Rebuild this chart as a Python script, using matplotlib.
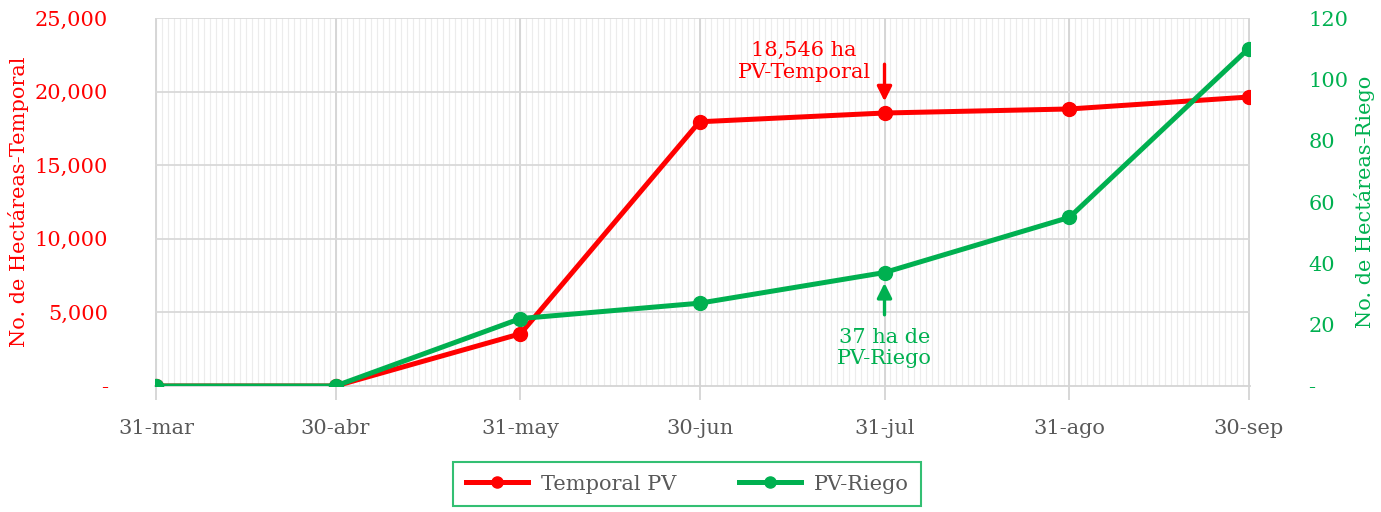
import numpy as np
import pandas as pd
import matplotlib
matplotlib.use("Agg")
import matplotlib.pyplot as plt
from matplotlib.ticker import FuncFormatter, MultipleLocator

fechas = pd.to_datetime(["2021-03-31", "2021-04-30", "2021-05-31", "2021-06-30",
                         "2021-07-31", "2021-08-31", "2021-09-30"])
etiquetas_x = ["31-mar", "30-abr", "31-may", "30-jun", "31-jul", "31-ago", "30-sep"]
temporal = [0, 0, 3550, 17950, 18546, 18820, 19630]
riego = [0, 0, 22, 27, 37, 55, 110]

ROJO = "#FF0000"
VERDE = "#00B050"
GRIS = "#595959"
FS = 15

plt.rcParams["font.family"] = ["DejaVu Serif"]

fig = plt.figure(figsize=(13.81, 5.12), dpi=100)
ax = fig.add_axes([155 / 1381, 1 - 386 / 512, (1250 - 155) / 1381, (386 - 18) / 512])
ax2 = ax.twinx()

# rejilla diaria + mensual
dias = pd.date_range(fechas[0], fechas[-1], freq="D")
for d in dias:
    ax.axvline(d, color="#ececec", lw=0.8, zorder=0)
for d in fechas:
    ax.axvline(d, color="#d4d4d4", lw=1.3, zorder=0)
for v in range(5000, 25001, 5000):
    ax.axhline(v, color="#d9d9d9", lw=1.3, zorder=0)

ax.plot(fechas, temporal, color=ROJO, lw=3.6, marker="o", ms=10, label="Temporal PV", zorder=3)
ax2.plot(fechas, riego, color=VERDE, lw=3.6, marker="o", ms=10, label="PV-Riego", zorder=3)

ax.set_xlim(fechas[0] - pd.Timedelta(hours=6), fechas[-1] + pd.Timedelta(hours=6))
ax.set_ylim(0, 25000)
ax2.set_ylim(0, 120)
ax.yaxis.set_major_locator(MultipleLocator(5000))
ax2.yaxis.set_major_locator(MultipleLocator(20))
ax.yaxis.set_major_formatter(FuncFormatter(lambda v, p: "-" if v == 0 else f"{v:,.0f}"))
ax2.yaxis.set_major_formatter(FuncFormatter(lambda v, p: "-" if v == 0 else f"{v:.0f}"))

ax.set_xticks(fechas)
ax.set_xticklabels(etiquetas_x)
ax.tick_params(axis="x", length=10, color="#d4d4d4", width=1.3, labelsize=FS,
               labelcolor=GRIS, pad=14)
ax.tick_params(axis="y", length=0, labelsize=FS, labelcolor=ROJO, pad=34)
ax2.tick_params(axis="y", length=0, labelsize=FS, labelcolor=VERDE, pad=42)

for a in (ax, ax2):
    for s in a.spines.values():
        s.set_visible(False)
ax.spines["bottom"].set_visible(True)
ax.spines["bottom"].set_color("#d4d4d4")
ax.spines["bottom"].set_linewidth(1.3)

ax.set_ylabel("No. de Hectáreas-Temporal", color=ROJO, fontsize=FS, labelpad=4)
ax2.set_ylabel("No. de Hectáreas-Riego", color=VERDE, fontsize=FS, labelpad=4)

# anotaciones
ax.annotate("", xy=(fechas[4], 19150), xytext=(fechas[4], 22050),
            arrowprops=dict(arrowstyle="-|>", color=ROJO, lw=2.4, mutation_scale=22))
ax.text(fechas[4] - pd.Timedelta(days=13.5), 22050, "18,546 ha\nPV-Temporal", color=ROJO,
        fontsize=FS, ha="center", va="center", linespacing=1.15)
ax2.annotate("", xy=(fechas[4], 34.5), xytext=(fechas[4], 22.3),
             arrowprops=dict(arrowstyle="-|>", color=VERDE, lw=2.4, mutation_scale=22))
ax2.text(fechas[4], 12.4, "37 ha de\nPV-Riego", color=VERDE,
         fontsize=FS, ha="center", va="center", linespacing=1.15)

h1, l1 = ax.get_legend_handles_labels()
h2, l2 = ax2.get_legend_handles_labels()
leg = fig.legend(h1 + h2, l1 + l2, loc="center", bbox_to_anchor=(687 / 1381, 1 - 484 / 512),
                 ncol=2, fontsize=FS, frameon=True, fancybox=False, handlelength=3,
                 columnspacing=3.0, borderpad=0.6, borderaxespad=0, handletextpad=0.6)
leg.get_frame().set_edgecolor(VERDE)
leg.get_frame().set_linewidth(1.5)
for t in leg.get_texts():
    t.set_color(GRIS)
for lh in leg.legend_handles:
    lh.set_markersize(8)

fig.savefig("out.png", dpi=100)
